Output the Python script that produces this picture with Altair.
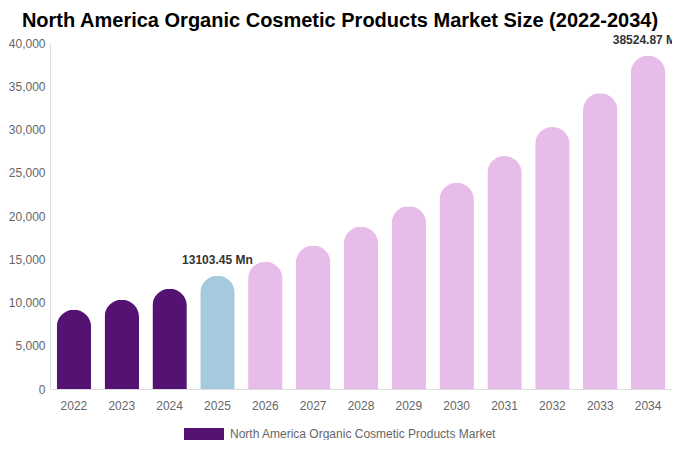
import altair as alt
import pandas as pd

years = ["2022", "2023", "2024", "2025", "2026", "2027", "2028", "2029", "2030", "2031", "2032", "2033", "2034"]
values = [9160, 10320, 11590, 13103.45, 14720, 16580, 18750, 21130, 23850, 26930, 30290, 34200, 38524.87]
labels = ["", "", "", "13103.45 Mn", "", "", "", "", "", "", "", "", "38524.87 Mn"]
series_name = "North America Organic Cosmetic Products Market"

DARK = "#541273"
BLUE = "#a5cade"
PINK = "#e7bce8"

df = pd.DataFrame({"Year": years, "Value": values, "Label": labels, "Series": [series_name] * len(years)})

FONT = "Liberation Sans"

x_enc = alt.X("Year:N", sort=years,
              scale=alt.Scale(paddingInner=0.28, paddingOuter=0.14),
              axis=alt.Axis(title=None, labelAngle=0, labelFontSize=12, labelColor="#666666",
                            labelFont=FONT, ticks=False, domainColor="#dddddd",
                            labelPadding=11, grid=False))
y_enc = alt.Y("Value:Q", scale=alt.Scale(domain=[0, 40000], nice=False),
              axis=alt.Axis(title=None, values=list(range(0, 40001, 5000)), format=",d",
                            labelFontSize=12, labelColor="#666666", labelFont=FONT,
                            ticks=False, domainColor="#dddddd", labelPadding=5, grid=False))

bars = alt.Chart(df).mark_bar(cornerRadiusTopLeft=17.5, cornerRadiusTopRight=17.5).encode(
    x=x_enc,
    y=y_enc,
    color=alt.Color("Series:N",
                    scale=alt.Scale(range=[DARK]),
                    legend=alt.Legend(title=None, orient="none", legendX=134, legendY=371,
                                      symbolType="M-1,-0.3H1V0.3H-1Z", symbolSize=1600,
                                      symbolStrokeWidth=0, symbolOpacity=1,
                                      labelFontSize=12, labelColor="#666666", labelFont=FONT,
                                      labelOffset=6, labelLimit=500, padding=0,
                                      direction="horizontal"),
                    condition=[{"test": "datum.Year == '2025'", "value": BLUE},
                               {"test": "toNumber(datum.Year) > 2025", "value": PINK}]),
)

text = alt.Chart(df).mark_text(font=FONT, fontSize=12, fontWeight="bold", color="#333333",
                               baseline="alphabetic", dy=-12).encode(
    x=alt.X("Year:N", sort=years),
    y=alt.Y("Value:Q"),
    text="Label:N",
)

chart = alt.layer(bars, text).properties(
    width=622,
    height=346,
    padding={"left": 42, "top": 35, "right": 0, "bottom": 51},
    autosize=alt.AutoSizeParams(type="none"),
    title=alt.TitleParams(series_name + " Size (2022-2034)", font=FONT, fontSize=20,
                          fontWeight="bold", color="#000000", anchor="middle", dx=-21, offset=3),
).configure_view(stroke=None)

chart.save("out.html", embed_options={"renderer": "svg", "actions": False})
